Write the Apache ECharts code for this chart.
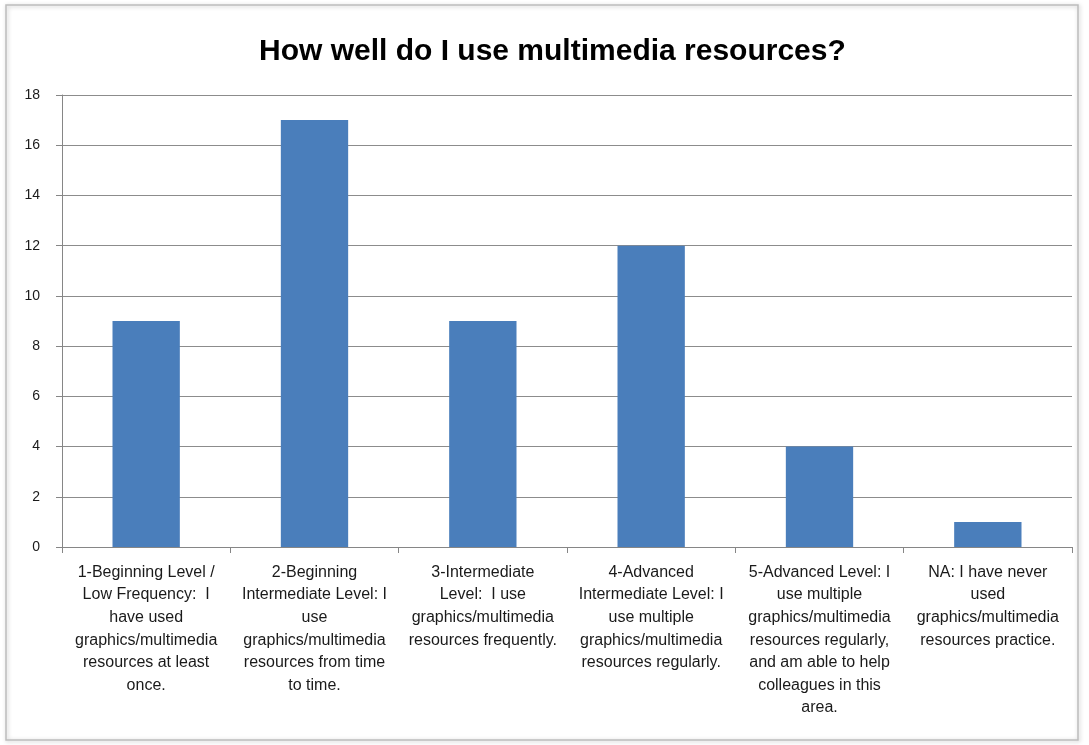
<!DOCTYPE html>
<html><head><meta charset="utf-8">
<script src="https://cdn.jsdelivr.net/npm/echarts@6/dist/echarts.min.js"></script>
<style>html,body{margin:0;padding:0;background:#fff}#c{width:1089px;height:745px}</style>
</head><body><div id="c"></div>
<script>
const titleText = "How well do I use multimedia resources?";
const categories = [
  "1-Beginning Level /\nLow Frequency:  I\nhave used\ngraphics/multimedia\nresources at least\nonce.",
  "2-Beginning\nIntermediate Level: I\nuse\ngraphics/multimedia\nresources from time\nto time.",
  "3-Intermediate\nLevel:  I use\ngraphics/multimedia\nresources frequently.",
  "4-Advanced\nIntermediate Level: I\nuse multiple\ngraphics/multimedia\nresources regularly.",
  "5-Advanced Level: I\nuse multiple\ngraphics/multimedia\nresources regularly,\nand am able to help\ncolleagues in this\narea.",
  "NA: I have never\nused\ngraphics/multimedia\nresources practice."
];
const values = [9, 17, 9, 12, 4, 1];
const yTicks = [0, 2, 4, 6, 8, 10, 12, 14, 16, 18];

const chart = echarts.init(document.getElementById('c'), null, {renderer: 'canvas'});
const font = "Liberation Sans, sans-serif";
chart.setOption({
  animation: false,
  backgroundColor: '#fff',
  graphic: [{
    type: 'rect', shape: {x: 6, y: 5, width: 1072, height: 735},
    style: {fill: 'none', stroke: '#bdbdbd', lineWidth: 1.5,
      shadowBlur: 4, shadowColor: 'rgba(0,0,0,0.25)', shadowOffsetX: 1, shadowOffsetY: 1}
  }],
  title: {
    text: titleText, left: 254, top: 32,
    textStyle: {fontFamily: 'Liberation Sans', fontWeight: 'bold', fontSize: 30, color: '#000'}
  },
  grid: {left: 62, right: 17, top: 95, bottom: 198, containLabel: false},
  xAxis: {
    type: 'category', data: categories,
    axisLine: {lineStyle: {color: '#868686'}},
    axisTick: {show: true, length: 6, alignWithLabel: false, lineStyle: {color: '#868686'}},
    axisLabel: {interval: 0, margin: 14, fontFamily: font, fontSize: 16, lineHeight: 22.6,
      color: '#1a1a1a', align: 'center', verticalAlign: 'top'}
  },
  yAxis: {
    type: 'value', min: 0, max: 18, interval: 2,
    axisLine: {show: true, lineStyle: {color: '#868686'}},
    axisTick: {show: true, length: 6, lineStyle: {color: '#868686'}},
    splitLine: {lineStyle: {color: '#8c8c8c'}},
    axisLabel: {margin: 22, fontFamily: font, fontSize: 14, color: '#1a1a1a',
      formatter: v => yTicks.includes(v) ? String(v) : ''}
  },
  series: [{
    type: 'bar', data: values, barWidth: '40%',
    itemStyle: {color: '#4A7EBB'}
  }]
});
</script></body></html>
